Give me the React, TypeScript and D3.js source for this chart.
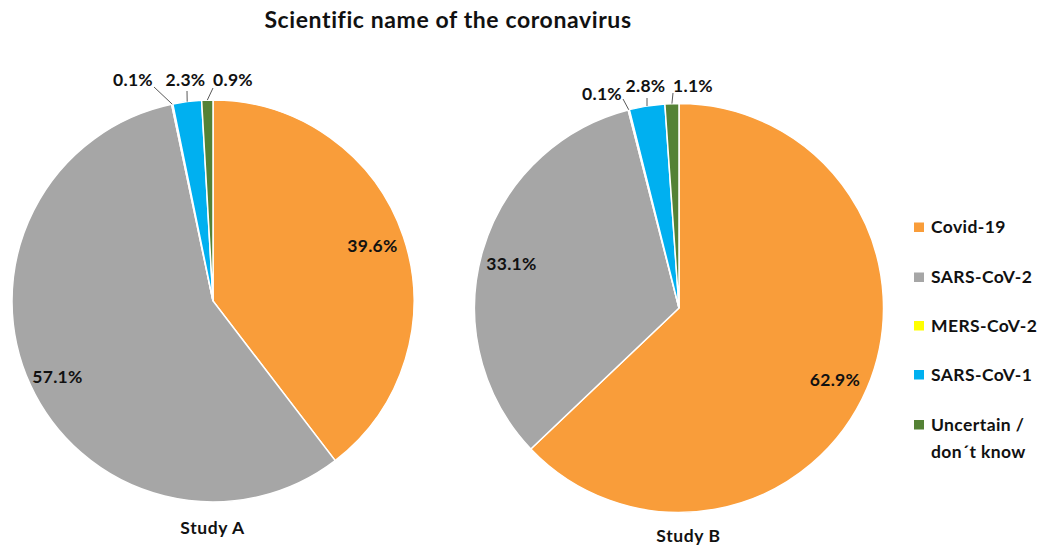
import React from "react";
import * as d3 from "d3";

const categories = ["Covid-19", "SARS-CoV-2", "MERS-CoV-2", "SARS-CoV-1", "Uncertain / don´t know"];
const legendLines = [["Covid-19"], ["SARS-CoV-2"], ["MERS-CoV-2"], ["SARS-CoV-1"], ["Uncertain /", "don´t know"]];
const colors = ["#F99D3A", "#A6A6A6", "#FFFF00", "#00B0F0", "#548235"];
const studyA = [39.6, 57.1, 0.1, 2.3, 0.9];
const studyB = [62.9, 33.1, 0.1, 2.8, 1.1];
const studyNames = ["Study A", "Study B"];

const FONT = "Lato, 'Open Sans', sans-serif";

type LabelPos = { x: number; y: number; anchor: string; lx?: number; ly?: number };

function Pie({ values, cx, cy, r, name, nameX, nameY, labels }: { values: number[]; cx: number; cy: number; r: number; name: string; nameX: number; nameY: number; labels: LabelPos[] }) {
  const pie = d3.pie<number>().value((d) => d).sort(null);
  const arcs = pie(values);
  const arc = d3.arc<d3.PieArcDatum<number>>().innerRadius(0).outerRadius(r);
  return (
    <g>
      <g transform={`translate(${cx},${cy})`}>
        {arcs.map((a, i) => (
          <path key={i} d={arc(a) || ""} fill={colors[i]} stroke="#fff" strokeWidth={1.5} />
        ))}
      </g>
      {arcs.map((a, i) => {
        const L = labels[i];
        const mid = (a.startAngle + a.endAngle) / 2;
        const px = cx + r * Math.sin(mid);
        const py = cy - r * Math.cos(mid);
        return (
          <g key={i}>
            {L.lx !== undefined && (
              <line x1={L.lx} y1={L.ly} x2={px} y2={py} stroke="#595959" strokeWidth={1} />
            )}
            <text x={L.x} y={L.y} textAnchor={L.anchor} fontFamily={FONT} fontWeight={700} fontSize={17.5} letterSpacing={0.3} fill="#111">
              {values[i].toFixed(1)}%
            </text>
          </g>
        );
      })}
      <text x={nameX} y={nameY} textAnchor="middle" fontFamily={FONT} fontWeight={700} fontSize={17.5} letterSpacing={0.6} fill="#111">
        {name}
      </text>
    </g>
  );
}

export default function App() {
  const labelsA: LabelPos[] = [
    { x: 372.5, y: 252, anchor: "middle" },
    { x: 57.5, y: 383, anchor: "middle" },
    { x: 153, y: 86, anchor: "end", lx: 154, ly: 87 },
    { x: 185.5, y: 86, anchor: "middle", lx: 187, ly: 91 },
    { x: 213, y: 86, anchor: "start", lx: 213, ly: 88 },
  ];
  const labelsB: LabelPos[] = [
    { x: 835, y: 386, anchor: "middle" },
    { x: 511.5, y: 270, anchor: "middle" },
    { x: 622, y: 100, anchor: "end", lx: 623, ly: 99 },
    { x: 645.5, y: 92, anchor: "middle", lx: 647, ly: 98 },
    { x: 673, y: 92, anchor: "start", lx: 673, ly: 93 },
  ];
  const legendBase = [233, 283, 331.5, 380.5, 430.5];
  return (
    <svg width={1042} height={546} style={{ display: "block", position: "absolute", left: 0, top: 0 }}>
      <rect width={1042} height={546} fill="#fff" />
      <text x={448} y={28} textAnchor="middle" fontFamily={FONT} fontWeight={700} fontSize={23} letterSpacing={0.6} fill="#111">
        Scientific name of the coronavirus
      </text>
      <Pie values={studyA} cx={213} cy={301} r={201} name={studyNames[0]} nameX={212.5} nameY={534} labels={labelsA} />
      <Pie values={studyB} cx={679} cy={308} r={204.5} name={studyNames[1]} nameX={688.5} nameY={541.5} labels={labelsB} />
      {categories.map((c, i) => (
        <g key={c}>
          <rect x={914} y={legendBase[i] - 10.5} width={10} height={9.5} fill={colors[i]} />
          {legendLines[i].map((t, j) => (
            <text key={j} x={931} y={legendBase[i] + j * 27.5} fontFamily={FONT} fontWeight={700} fontSize={17.5} letterSpacing={0.4} fill="#111">
              {t}
            </text>
          ))}
        </g>
      ))}
    </svg>
  );
}
